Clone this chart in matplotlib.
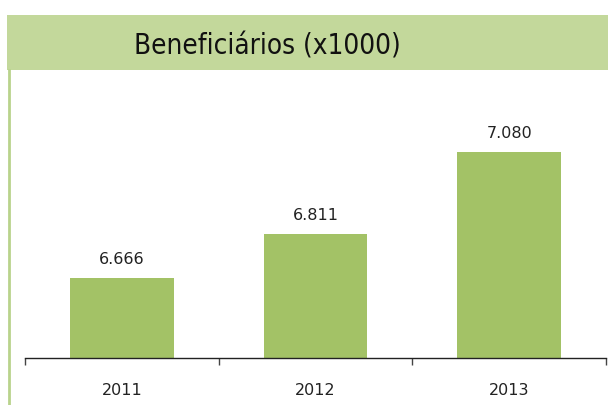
import matplotlib.pyplot as plt
from matplotlib.patches import Rectangle
from matplotlib.lines import Line2D

anos = ['2011', '2012', '2013']
beneficiarios = [6666, 6811, 7080]   # em milhares
rotulos = ['6.666', '6.811', '7.080']

W, H = 608, 405
fig = plt.figure(figsize=(W / 100, H / 100), dpi=100)

def fx(px):
    return px / W

def fy(py):
    return 1 - py / H

# faixa do título
fig.patches.append(Rectangle((fx(7), fy(70)), fx(608) - fx(7), fy(15) - fy(70),
                             transform=fig.transFigure, facecolor='#c3d89b',
                             edgecolor='none', zorder=0))
# linha verde à esquerda
fig.lines.append(Line2D([fx(8.5), fx(8.5)], [fy(70), 0], transform=fig.transFigure,
                        color='#b9d38c', linewidth=2))
fig.text(fx(267), fy(46), 'Beneficiários (x1000)', ha='center', va='center',
         fontsize=20, family='DejaVu Sans', stretch='condensed',
         color='#111111')

ax = fig.add_axes([fx(25), fy(358), fx(606) - fx(25), fy(72) - fy(358)])
x = range(len(anos))
ax.bar(x, beneficiarios, width=0.535, color='#a3c266', bottom=0)
ax.set_xlim(-0.5, 2.5)
ax.set_ylim(6403, 7343)

for xi, v, r in zip(x, beneficiarios, rotulos):
    ax.annotate(r, (xi, v), xytext=(0, 8), textcoords='offset points',
                ha='center', va='bottom', fontsize=11.5, color='#222222')

for s in ['left', 'right', 'top']:
    ax.spines[s].set_visible(False)
ax.spines['bottom'].set_color('#222222')
ax.spines['bottom'].set_linewidth(1)
ax.set_yticks([])
ax.set_xticks([-0.5, 0.5, 1.5, 2.5])
ax.set_xticklabels([])
ax.tick_params(axis='x', which='major', length=5, width=1, color='#444444')
ax.set_xticks(list(x), minor=True)
ax.set_xticklabels(anos, minor=True)
ax.tick_params(axis='x', which='minor', length=0, pad=18, labelsize=11.5,
               labelcolor='#222222')

fig.savefig('out.png', dpi=100)
